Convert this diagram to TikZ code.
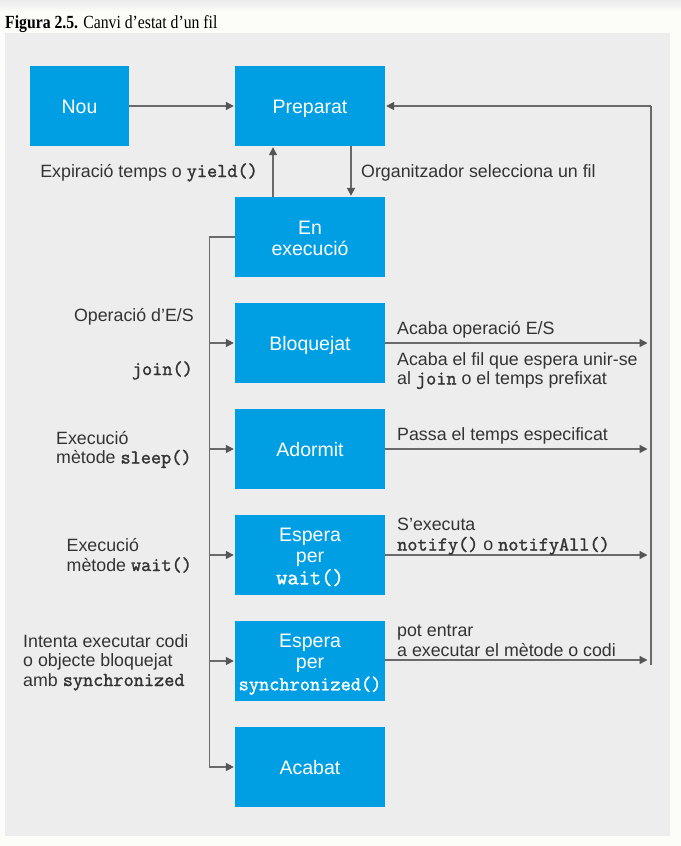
\documentclass[tikz,border=0pt]{standalone}
\usepackage{fontspec}
\setmainfont{Liberation Sans}
\newfontfamily\capfont{Liberation Serif}[FakeStretch=0.85]
\newfontfamily\cmono{Latin Modern Mono}[FakeBold=1.5]
\usetikzlibrary{arrows.meta}
\definecolor{boxblue}{HTML}{009FE3}
\definecolor{panelgray}{HTML}{EDEDEE}
\definecolor{pagecol}{HTML}{FCFCF8}
\definecolor{linegray}{HTML}{6A6A6A}
\definecolor{tipgray}{HTML}{555555}
\definecolor{txtgray}{HTML}{333333}
\newcommand\cd[1]{{\cmono\fontsize{19.7bp}{20bp}\selectfont #1}}
\newcommand\cdbig[1]{{\cmono\fontsize{21.9bp}{21.5bp}\selectfont #1}}
\newcommand\lblfont{\fontsize{17.8bp}{20bp}\selectfont}
\newcommand\boxfont{\fontsize{19.5bp}{21.5bp}\selectfont}
\newcommand\bx[1]{\raisebox{-3.5bp}[\height][\depth]{\begin{tabular}{@{}c@{}}#1\end{tabular}}}
\begin{document}
\begin{tikzpicture}[x=1bp,y=-1bp,
  stbox/.style={fill=boxblue, text=white, minimum width=150bp, minimum height=80bp, inner sep=0pt, font=\boxfont},
  lbl/.style={text=txtgray, font=\lblfont, inner sep=0pt},
  conn/.style={draw=linegray, line width=1.4bp},
  arr/.style={conn, -{Triangle[length=8bp,width=8bp,color=tipgray]}, shorten >=1bp},
]
\useasboundingbox (0,0) rectangle (681,846);
\fill[pagecol] (0,0) rectangle (681,846);
\shade[top color=black!8, bottom color=pagecol] (0,0) rectangle (681,12);
\fill[panelgray] (5,33) rectangle (670,836);

\node[anchor=base west, inner sep=0pt, text=black, font=\capfont\fontsize{18.5bp}{20bp}\selectfont] (cap) at (5,28) {\textbf{Figura 2.5.} Canvi d’estat d’un fil};

% boxes
\node[stbox, minimum width=99bp] (nou) at (79.5,106) {\bx{Nou}};
\node[stbox] (prep) at (310,106) {\bx{Preparat}};
\node[stbox] (exec) at (310,237) {\bx{En\\execució}};
\node[stbox] (bloq) at (310,343) {\bx{Bloquejat}};
\node[stbox] (ador) at (310,449) {\bx{Adormit}};
\node[stbox] (wait) at (310,555) {\bx{Espera\\per\\\cdbig{wait()}}};
\node[stbox] (sync) at (310,661) {\bx{Espera\\per\\{\cmono\fontsize{19.8bp}{21.5bp}\selectfont synchronized()}}};
\node[stbox] (acab) at (310,767) {\bx{Acabat}};

% bus coordinates
\coordinate (L) at (209.5,237);
\coordinate (R) at (651,106);
\coordinate (Rb) at (651,665);
\coordinate (se) at ([yshift=1bp]sync.east);

% connectors
\draw[arr] (nou) -- (prep);
\draw[arr] ([xshift=-37bp]exec.north) -- ([xshift=-37bp]prep.south);
\draw[arr] ([xshift=41bp]prep.south) -- ([xshift=41bp]exec.north);
\draw[arr] (exec.west) -- (L) -- (L |- acab.west) -- (acab.west);
\foreach \n in {bloq,ador,wait,sync}{
  \draw[arr] (L |- \n.west) -- (\n.west);
}
\draw[conn] (R) -- (Rb);
\draw[arr] (R) -- (prep.east);
\foreach \n in {bloq,ador,wait}{
  \draw[arr, shorten >=3.5bp] (\n.east) -- (R |- \n.east);
}
\draw[arr, shorten >=3.5bp] (se) -- (R |- se);

% labels
\node[lbl, anchor=base east] (lexp) at (258,177) {Expiració temps o \cd{yield()}};
\node[lbl, anchor=base west] (lorg) at (361,177) {Organitzador selecciona un fil};
\node[lbl, anchor=base east] (lio) at (194,321) {Operació d’E/S};
\node[lbl, anchor=base east] (ljoin) at (193,375) {\cd{join()}};
\node[lbl, anchor=base west] (lacio) at (397,334) {Acaba operació E/S};
\node[lbl, anchor=base west] (lacfil) at (397,365) {Acaba el fil que espera unir-se};
\node[lbl, anchor=base west] (lacjoin) at (397,384.5) {al \cd{join} o el temps prefixat};
\node[lbl, anchor=base west] (lsl1) at (56,444) {Execució};
\node[lbl, anchor=base west] (lsl2) at (56,463.5) {mètode \cd{sleep()}};
\node[lbl, anchor=base west] (lpassa) at (397,440) {Passa el temps especificat};
\node[lbl, anchor=base west] (lw1) at (66.5,551.5) {Execució};
\node[lbl, anchor=base west] (lw2) at (66.5,571) {mètode \cd{wait()}};
\node[lbl, anchor=base west] (ln1) at (397,530.5) {S’executa};
\node[lbl, anchor=base west] (ln2) at (397,550.5) {\cd{notify()} o \cd{notifyAll()}};
\node[lbl, anchor=base west] (ls1) at (23,647.3) {Intenta executar codi};
\node[lbl, anchor=base west] (ls2) at (23,666.7) {o objecte bloquejat};
\node[lbl, anchor=base west] (ls3) at (23,686) {amb \cd{synchronized}};
\node[lbl, anchor=base west] (lp1) at (397,636.7) {pot entrar};
\node[lbl, anchor=base west] (lp2) at (397,656) {a executar el mètode o codi};
\end{tikzpicture}
\end{document}
